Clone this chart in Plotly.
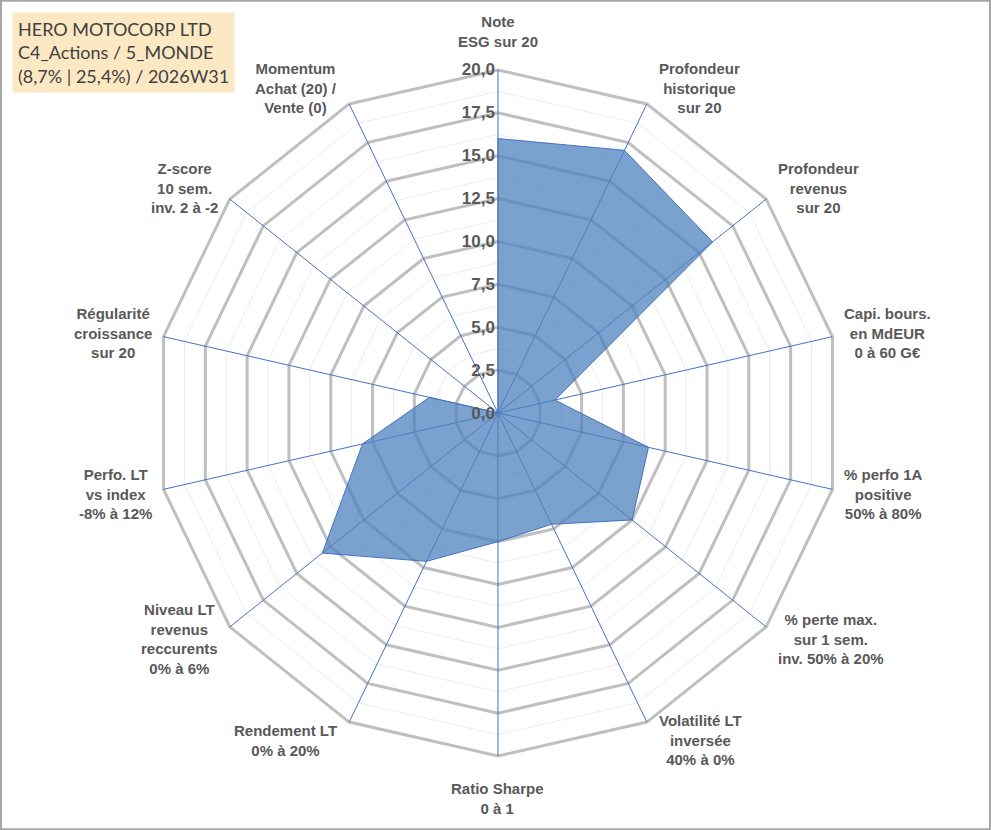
import math
import plotly.graph_objects as go

# axes of the radar, clockwise from the top
categories = [
    "Note<br>ESG sur 20",
    "Profondeur<br>historique<br>sur 20",
    "Profondeur<br>revenus<br>sur 20",
    "Capi. bours.<br>en MdEUR<br>0 à 60 G€",
    "% perfo 1A<br>positive<br>50% à 80%",
    "% perte max.<br>sur 1 sem.<br>inv. 50% à 20%",
    "Volatilité LT<br>inversée<br>40% à 0%",
    "Ratio Sharpe<br>0 à 1",
    "Rendement LT<br>0% à 20%",
    "Niveau LT<br>revenus<br>reccurents<br>0% à 6%",
    "Perfo. LT<br>vs index<br>-8% à 12%",
    "Régularité<br>croissance<br>sur 20",
    "Z-score<br>10 sem.<br>inv. 2 à -2",
    "Momentum<br>Achat (20) /<br>Vente (0)",
]
scores = [16.0, 17.0, 16.0, 3.4, 9.0, 10.0, 7.2, 7.5, 9.6, 13.1, 8.1, 4.1, 0.0, 0.0]

major_ticks = [0, 2.5, 5, 7.5, 10, 12.5, 15, 17.5, 20]
minor_rings = [1.25, 3.75, 6.25, 8.75, 11.25, 13.75, 16.25, 18.75]

title_lines = ["HERO MOTOCORP LTD", "C4_Actions / 5_MONDE", "(8,7% | 25,4%) / 2026W31"]

W, H = 991, 830
R_MAX = 20
R_RANGE = 23
DOM_X = [0.1044, 0.9006]
DOM_Y = [0.0271, 0.9777]

label_font = dict(family="Liberation Sans, Arial", size=15, color="#595959", weight="bold")

fig = go.Figure()

# thin minor rings
for r in minor_rings:
    fig.add_trace(go.Scatterpolar(
        r=[r] * (len(categories) + 1),
        theta=categories + categories[:1],
        mode="lines",
        line=dict(color="#EBEBEB", width=1),
        hoverinfo="skip",
        showlegend=False,
    ))

# blue spokes, stopping at the outer ring
for cat in categories:
    fig.add_trace(go.Scatterpolar(
        r=[0, R_MAX],
        theta=[cat, cat],
        mode="lines",
        line=dict(color="#4472C4", width=1),
        hoverinfo="skip",
        showlegend=False,
    ))

# the score polygon
fig.add_trace(go.Scatterpolar(
    r=scores + scores[:1],
    theta=categories + categories[:1],
    mode="lines",
    fill="toself",
    fillcolor="rgba(79,129,189,0.75)",
    line=dict(color="#4472C4", width=1),
    showlegend=False,
))

# category labels placed beside each outer vertex, Excel style
cx = (DOM_X[0] + DOM_X[1]) / 2 * W
cy = (DOM_Y[0] + DOM_Y[1]) / 2 * H
r_px = min((DOM_X[1] - DOM_X[0]) * W, (DOM_Y[1] - DOM_Y[0]) * H) / 2 * R_MAX / R_RANGE

annotations = []
n = len(categories)
for i, cat in enumerate(categories):
    a = math.radians(i * 360 / n)
    s, c = math.sin(a), math.cos(a)
    vx, vy = cx + r_px * s, cy + r_px * c
    if abs(s) < 0.05:
        xa, x = "center", vx
        if c > 0:
            ya, y = "bottom", vy + 18
        else:
            ya, y = "top", vy - 22
    else:
        xa = "left" if s > 0 else "right"
        x = vx + (10 if s > 0 else -10)
        ya = "middle"
        y = vy + (18 * c if c > 0 else 20 * c)
    annotations.append(dict(
        text=cat, x=x / W, y=y / H, xref="paper", yref="paper",
        xanchor=xa, yanchor=ya, align="center", showarrow=False,
        font=label_font,
    ))

annotations.append(dict(
    text="<br>".join(title_lines),
    xref="paper", yref="paper",
    x=0.012, y=0.986,
    xanchor="left", yanchor="top",
    align="left",
    showarrow=False,
    bgcolor="#FCE9C4",
    borderpad=5,
    font=dict(family="Lato, Open Sans", size=18, color="#404040"),
))

fig.update_layout(
    width=W,
    height=H,
    margin=dict(l=0, r=0, t=0, b=0),
    paper_bgcolor="white",
    separators=", ",
    polar=dict(
        bgcolor="white",
        gridshape="linear",
        domain=dict(x=DOM_X, y=DOM_Y),
        radialaxis=dict(
            range=[0, R_RANGE],
            tickvals=major_ticks,
            tickformat=".1f",
            angle=90,
            tickangle=90,
            side="counterclockwise",
            showline=False,
            ticks="",
            gridcolor="#BFBFBF",
            gridwidth=3,
            tickfont=dict(family="Liberation Sans, Arial", size=17, color="#595959", weight="bold"),
        ),
        angularaxis=dict(
            direction="clockwise",
            rotation=90,
            showgrid=False,
            showline=False,
            showticklabels=False,
            ticks="",
        ),
    ),
    annotations=annotations,
    shapes=[dict(
        type="rect", xref="paper", yref="paper",
        x0=0.001, y0=0.001, x1=0.999, y1=0.999,
        line=dict(color="#A6A6A6", width=2),
    )],
)

fig.write_html("out.html", config={"displayModeBar": False},
               post_script="document.body.style.margin = '0';")
